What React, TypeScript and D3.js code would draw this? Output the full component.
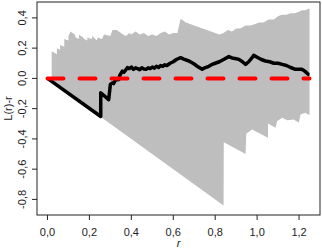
import React from "react";
import * as d3 from "d3";

const xTicks = [0, 0.2, 0.4, 0.6, 0.8, 1.0, 1.2];
const yTicks = [-0.8, -0.6, -0.4, -0.2, 0.0, 0.2, 0.4];

const upperEnv: [number, number][] = [
  [0, 0], [0.02, 0], [0.02, 0.18], [0.045, 0.16], [0.045, 0.2], [0.06, 0.19], [0.06, 0.22], [0.08, 0.21],
  [0.08, 0.26], [0.1, 0.25], [0.1, 0.28], [0.11, 0.31], [0.13, 0.29], [0.135, 0.27], [0.15, 0.26],
  [0.15, 0.29], [0.17, 0.27], [0.175, 0.26], [0.19, 0.25], [0.19, 0.27], [0.21, 0.26], [0.215, 0.28],
  [0.235, 0.25], [0.24, 0.27], [0.26, 0.26], [0.27, 0.29], [0.3, 0.28], [0.31, 0.32], [0.33, 0.32],
  [0.36, 0.29], [0.375, 0.28], [0.39, 0.3], [0.4, 0.29], [0.42, 0.31], [0.44, 0.29], [0.46, 0.3],
  [0.48, 0.28], [0.5, 0.29], [0.52, 0.28], [0.54, 0.3], [0.56, 0.31], [0.58, 0.29], [0.6, 0.3],
  [0.62, 0.3], [0.635, 0.395], [0.66, 0.37], [0.7, 0.35], [0.72, 0.34], [0.74, 0.33], [0.76, 0.32],
  [0.8, 0.3], [0.82, 0.29], [0.84, 0.3], [0.86, 0.32], [0.88, 0.31], [0.9, 0.33], [0.92, 0.33],
  [0.945, 0.35], [0.97, 0.35], [0.99, 0.36], [1.01, 0.37], [1.03, 0.37], [1.056, 0.39], [1.08, 0.39],
  [1.1, 0.41], [1.118, 0.42], [1.14, 0.42], [1.16, 0.43], [1.18, 0.43], [1.2, 0.44], [1.213, 0.45],
  [1.23, 0.45], [1.245, 0.46], [1.25, 0.46],
];

const lowerEnv: [number, number][] = [
  [0, 0], [0.84, -0.84], [0.841, -0.422], [0.945, -0.499], [0.948, -0.366], [0.976, -0.338],
  [1.052, -0.393], [1.052, -0.298], [1.088, -0.326], [1.095, -0.283], [1.119, -0.26], [1.143, -0.276],
  [1.175, -0.272], [1.199, -0.293], [1.207, -0.238], [1.23, -0.227], [1.243, -0.238], [1.25, -0.24],
];

const observed: [number, number][] = [
  [0, 0], [0.254, -0.252], [0.254, -0.095], [0.292, -0.14], [0.3, -0.04], [0.31, -0.03], [0.315, -0.035],
  [0.325, -0.01], [0.34, -0.007], [0.345, 0.02], [0.357, 0.048], [0.365, 0.04], [0.381, 0.071],
  [0.39, 0.065], [0.4, 0.075], [0.41, 0.06], [0.42, 0.07], [0.43, 0.065], [0.44, 0.058], [0.45, 0.07],
  [0.46, 0.062], [0.47, 0.06], [0.48, 0.07], [0.49, 0.065], [0.5, 0.075], [0.51, 0.068], [0.52, 0.08],
  [0.53, 0.072], [0.54, 0.085], [0.55, 0.08], [0.56, 0.09], [0.57, 0.085], [0.585, 0.1], [0.6, 0.11],
  [0.615, 0.125], [0.635, 0.137], [0.65, 0.128], [0.675, 0.115], [0.7, 0.095], [0.72, 0.075],
  [0.738, 0.06], [0.75, 0.07], [0.77, 0.08], [0.786, 0.093], [0.8, 0.1], [0.82, 0.11], [0.84, 0.125],
  [0.865, 0.144], [0.88, 0.135], [0.9, 0.13], [0.913, 0.126], [0.93, 0.11], [0.945, 0.093], [0.96, 0.11],
  [0.975, 0.135], [0.984, 0.152], [1.0, 0.14], [1.02, 0.125], [1.04, 0.115], [1.06, 0.11], [1.08, 0.1],
  [1.1, 0.1], [1.119, 0.093], [1.14, 0.085], [1.16, 0.072], [1.183, 0.06], [1.2, 0.06], [1.213, 0.06],
  [1.23, 0.045], [1.245, 0.026], [1.25, 0.025],
];

const theoretical: [number, number][] = [[0, 0], [1.25, 0]];

const W = 322;
const H = 250;
const box = { left: 37, right: 320, top: 2, bottom: 215 };

export default function App() {
  const x = d3.scaleLinear().domain([-0.05, 1.3]).range([box.left, box.right]);
  const y = d3.scaleLinear().domain([-0.903, 0.505]).range([box.bottom, box.top]);
  const line = d3.line<[number, number]>().x((d) => x(d[0])).y((d) => y(d[1]));
  const envPath = line(upperEnv.concat([...lowerEnv].reverse())) + "Z";
  const font = "'Liberation Sans', Arial, sans-serif";
  const fmt = (v: number) => v.toFixed(1).replace(".", ",");
  return (
    <svg width={W} height={H} style={{ position: "fixed", left: 0, top: 0, background: "#fff" }}
      fontFamily={font}>
      <path d={envPath} fill="#bebebe" stroke="none" />
      <path d={line(observed) || ""} fill="none" stroke="#000" strokeWidth={3.5} strokeLinejoin="round" />
      <path d={line(theoretical) || ""} fill="none" stroke="#ff0000" strokeWidth={4}
        strokeDasharray="16 16" strokeLinecap="round" />
      <rect x={box.left} y={box.top} width={box.right - box.left} height={box.bottom - box.top}
        fill="none" stroke="#222" strokeWidth={1} />
      {xTicks.map((t) => (
        <g key={"x" + t}>
          <line x1={x(t)} x2={x(t)} y1={box.bottom} y2={box.bottom + 5} stroke="#222" />
          <text x={x(t)} y={235.5} fontSize={11} textAnchor="middle" fill="#222">{fmt(t)}</text>
        </g>
      ))}
      {yTicks.map((t) => (
        <g key={"y" + t}>
          <line x1={box.left - 5} x2={box.left} y1={y(t)} y2={y(t)} stroke="#222" />
          <text transform={`translate(${25.5},${y(t)}) rotate(-90)`} fontSize={11} textAnchor="middle"
            fill="#222">{fmt(t)}</text>
        </g>
      ))}
      <text x={(box.left + box.right) / 2} y={247} fontSize={11} fontStyle="italic" textAnchor="middle"
        fill="#222">r</text>
      <text transform={`translate(${12},${(box.top + box.bottom) / 2}) rotate(-90)`} fontSize={11}
        textAnchor="middle" fill="#222">L(r)-r</text>
    </svg>
  );
}
